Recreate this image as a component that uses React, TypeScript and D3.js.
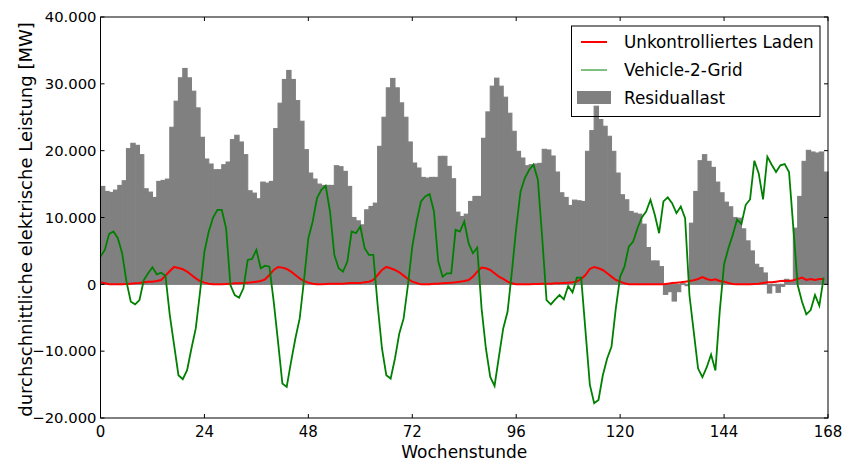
import React from 'react';
import * as d3 from 'd3';

// Residuallast per Wochenstunde [MW]
const residualLoad = [
  14650, 13900, 13750, 14100, 14800, 15500, 20300, 21100, 20800, 19400, 14300, 13800,
  13000, 15400, 15550, 15750, 23500, 27400, 30900, 32300, 30900, 28900, 26400, 22000,
  18750, 18000, 17150, 17150, 17900, 18300, 21650, 22300, 21300, 19400, 14000, 13650,
  12800, 15300, 15150, 15400, 23300, 27100, 30650, 32000, 30650, 27500, 24400, 20150,
  16650, 15750, 15000, 14800, 14800, 14800, 17750, 17600, 16900, 14650, 10000, 9500,
  8900, 11150, 11650, 12150, 20650, 25000, 29400, 30800, 29400, 27150, 25000, 21300,
  18150, 17400, 16000, 15900, 16000, 16000, 19150, 19150, 17650, 15800, 10800, 10150,
  10500, 12400, 13150, 13150, 21850, 25800, 29650, 30850, 29650, 28000, 25600, 22900,
  19900, 18900, 17750, 17900, 18000, 18100, 20200, 20100, 19200, 16800, 13700, 13000,
  11800, 12600, 12500, 12400, 19900, 23000, 26650, 24650, 23650, 22150, 19900, 16650,
  13400, 12650, 10900, 10650, 10500, 9000, 5500, 3500, 3500, 2650, -1500, -1100,
  -2500, -1100, 100, -200, 9150, 13900, 18500, 19400, 18400, 17500, 15300, 13700,
  12300, 11600, 10000, 9900, 8300, 6500, 5000, 3000, 2500, 1700, -1300, -200,
  -1200, -300, 750, 400, 8400, 13150, 18400, 20050, 19800, 19650, 19800, 16800,
];

// Vehicle-2-Grid [MW]
const v2g = [
  4150, 5150, 7550, 7900, 6900, 4650, 400, -2600, -3000, -2350, 650, 1650,
  2550, 1500, 1750, 1300, -4600, -9100, -13600, -14200, -12850, -9600, -6600, -1100,
  4900, 7900, 10000, 11150, 11150, 8400, -100, -1600, -2000, -600, 3650, 3800,
  5150, 2400, 2800, 2650, -2600, -8600, -14850, -15350, -11600, -8100, -5100, 650,
  6900, 9400, 12900, 14150, 14750, 10900, 4400, 2400, 1900, 3400, 7900, 7650,
  8650, 5400, 4400, 4400, -3100, -9600, -13600, -14100, -11100, -7350, -5100, -100,
  5650, 9400, 12400, 13150, 13500, 10900, 3400, 1150, 1650, 1650, 8150, 7900,
  9400, 6150, 4650, 5500, -3600, -9600, -13850, -15200, -10850, -6600, -4100, 1900,
  8400, 13900, 15900, 17150, 17900, 15650, 7000, -2350, -3000, -2250, -1600, -2250,
  -250, -1200, 1000, 1000, -7000, -15000, -17800, -17300, -13600, -11100, -9350, -3600,
  1150, 2650, 5650, 6400, 8400, 10000, 10900, 12650, 10400, 7650, 12400, 13000,
  12150, 10650, 11650, 9900, -1600, -7100, -12600, -13900, -12400, -10500, -12900, -4000,
  3000, 5400, 7400, 9700, 9000, 11900, 12700, 18500, 16600, 12700, 19100, 17900,
  16800, 17800, 18000, 16800, 8400, -100, -2600, -4500, -3850, -1600, -3200, 1000,
];

// Unkontrolliertes Laden [MW]
const uncontrolled = [
  300, 150, 0, 0, 0, 0, 50, 100, 150, 200, 300, 400,
  400, 500, 650, 1300, 2000, 2600, 2450, 2250, 1900, 1400, 900, 500,
  250, 100, 0, 0, 0, 50, 100, 150, 150, 200, 250, 300,
  400, 500, 750, 1400, 2150, 2600, 2500, 2300, 1900, 1400, 900, 500,
  250, 100, 0, 0, 50, 100, 100, 100, 100, 150, 200, 200,
  200, 300, 400, 650, 1400, 2150, 2600, 2400, 2150, 1800, 1300, 800,
  400, 200, 0, 0, 0, 100, 100, 150, 200, 250, 300, 400,
  500, 650, 1150, 1900, 2500, 2400, 2150, 1650, 1150, 800, 400, 150,
  0, 0, 0, 0, 50, 50, 100, 100, 100, 150, 150, 200,
  250, 300, 400, 800, 1400, 2300, 2600, 2400, 2150, 1650, 1150, 650,
  400, 150, 0, 0, 0, 0, 0, 0, 0, 0, 0, 100,
  200, 250, 300, 400, 500, 600, 800, 1100, 800, 600, 750, 500,
  400, 200, 50, 0, 0, 0, 0, 50, 100, 200, 300, 300,
  400, 500, 550, 500, 600, 800, 1000, 650, 800, 650, 800, 800,
];

const xTicks = [0, 24, 48, 72, 96, 120, 144, 168];
const yTicks = [-20000, -10000, 0, 10000, 20000, 30000, 40000];
const legendLabels = ['Unkontrolliertes Laden', 'Vehicle-2-Grid', 'Residuallast'];

const W = 844;
const H = 461;
const margin = { top: 17, right: 16, bottom: 43, left: 100.5 };
const FONT = '"DejaVu Sans", sans-serif';

const fmt = (v: number) => (v === 0 ? '0' : d3.format(',')(v).replace(/,/g, '.'));

const App = () => {
  const x = d3.scaleLinear().domain([0, 168]).range([margin.left, W - margin.right]);
  const y = d3.scaleLinear().domain([-20000, 40000]).range([H - margin.bottom, margin.top]);

  const line = d3
    .line<number>()
    .x((_, i) => x(i))
    .y((d) => y(d));

  const x0 = x.range()[0];
  const x1 = x.range()[1];
  const yTop = y.range()[1];
  const yBot = y.range()[0];

  return (
    <svg
      width={W}
      height={H}
      style={{ position: 'absolute', left: 0, top: 0, background: '#fff' }}
      fontFamily={FONT}
    >
      {/* residual load bars */}
      <g>
        {residualLoad.map((v, i) => (
          <rect
            key={i}
            x={x(i)}
            width={x(i + 1) - x(i)}
            y={y(Math.max(v, 0))}
            height={Math.abs(y(v) - y(0))}
            fill="#808080"
            stroke="#808080"
            strokeWidth={1.1}
          />
        ))}
      </g>

      <path d={line(uncontrolled) ?? ''} fill="none" stroke="#ff0000" strokeWidth={2} />
      <path d={line(v2g) ?? ''} fill="none" stroke="#008000" strokeWidth={1.8} />

      {/* frame */}
      <rect x={x0} y={yTop} width={x1 - x0} height={yBot - yTop} fill="none" stroke="#000" strokeWidth={1} />

      {/* x ticks */}
      {xTicks.map((t) => (
        <g key={t}>
          <line x1={x(t)} x2={x(t)} y1={yBot} y2={yBot - 4} stroke="#000" />
          <line x1={x(t)} x2={x(t)} y1={yTop} y2={yTop + 4} stroke="#000" />
          <text x={x(t)} y={437} textAnchor="middle" fontSize={15} fill="#000">
            {t}
          </text>
        </g>
      ))}

      {/* y ticks */}
      {yTicks.map((t) => (
        <g key={t}>
          <line x1={x0} x2={x0 + 4} y1={y(t)} y2={y(t)} stroke="#000" />
          <line x1={x1} x2={x1 - 4} y1={y(t)} y2={y(t)} stroke="#000" />
          <text x={x0 - 4} y={y(t)} dy="0.36em" textAnchor="end" fontSize={14.8} fill="#000">
            {fmt(t)}
          </text>
        </g>
      ))}

      <text x={(x0 + x1) / 2} y={458} textAnchor="middle" fontSize={17} fill="#000">
        Wochenstunde
      </text>
      <text
        transform={`translate(32,${(yTop + yBot) / 2 + 2}) rotate(-90)`}
        textAnchor="middle"
        fontSize={18}
        fill="#000"
      >
        durchschnittliche elektrische Leistung [MW]
      </text>

      {/* legend */}
      <g>
        <rect x={571.5} y={26} width={248.5} height={90.5} fill="none" stroke="#000" strokeWidth={1} />
        <line x1={581} x2={607} y1={42} y2={42} stroke="#ff0000" strokeWidth={2} />
        <line x1={581} x2={607} y1={70} y2={70} stroke="#008000" strokeWidth={1} />
        <rect x={577} y={91} width={34} height={13} fill="#808080" />
        {legendLabels.map((l, i) => (
          <text key={l} x={624} y={42 + i * 28} dy="0.36em" fontSize={16.8} fill="#000">
            {l}
          </text>
        ))}
      </g>
    </svg>
  );
};

export default App;
